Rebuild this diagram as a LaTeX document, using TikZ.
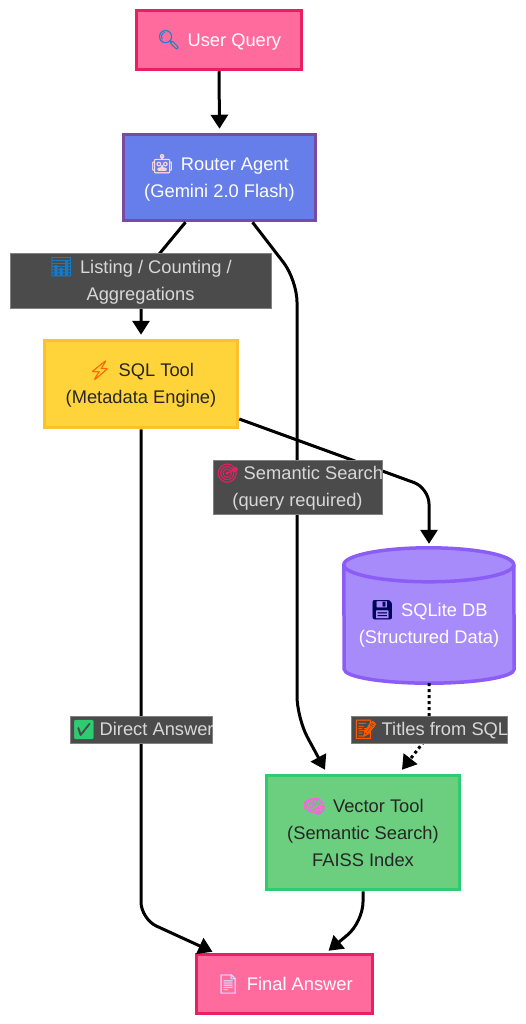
\documentclass[tikz,border=0pt]{standalone}
\usepackage{fontspec}
\setmainfont{Liberation Sans}
\newfontfamily\emojifont[FakeBold=1.5,Scale=1.02]{Noto Emoji}
\usetikzlibrary{arrows.meta,calc}
\newcommand{\emo}[2]{\textcolor{#1}{\emojifont #2}\hspace{7pt}}
\definecolor{pinkfill}{HTML}{FF6B9D}
\definecolor{pinkline}{HTML}{E91E63}
\definecolor{bluefill}{HTML}{667EEA}
\definecolor{blueline}{HTML}{764BA2}
\definecolor{yellowfill}{HTML}{FFD43B}
\definecolor{yellowline}{HTML}{FBC02D}
\definecolor{greenfill}{HTML}{6BCF7F}
\definecolor{greenline}{HTML}{2ECC71}
\definecolor{purplefill}{HTML}{A78BFA}
\definecolor{purpleline}{HTML}{8B5CF6}
\definecolor{labelfill}{HTML}{4A4B4A}
\definecolor{labeltext}{HTML}{D8D8D8}
\tikzset{
  x=1pt,y=-1pt,
  box/.style={draw,line width=3.5pt,inner sep=0pt,align=center,font=\fontsize{18.3}{27}\selectfont,anchor=center},
  pinkbox/.style={box,fill=pinkfill,draw=pinkline,text=white},
  bluebox/.style={box,fill=bluefill,draw=blueline,text=white},
  yellowbox/.style={box,fill=yellowfill,draw=yellowline,text=black!85},
  greenbox/.style={box,fill=greenfill,draw=greenline,text=black!85},
  lbl/.style={fill=labelfill,draw=labelfill!70!white,line width=.5pt,inner sep=0pt,align=center,text=labeltext,font=\fontsize{18.3}{27}\selectfont,anchor=center},
  link/.style={draw=black,line width=3pt,-{Triangle[length=14pt,width=17pt]},rounded corners=14pt},
  dotlink/.style={link,dash pattern=on 3pt off 3pt}
}
\begin{document}
\begin{tikzpicture}
\useasboundingbox (0,0) rectangle (525,1024);
\fill[white] (0,0) rectangle (525,1024);
% nodes
\node[pinkbox,minimum width=165pt,minimum height=59pt] (user) at (219,40) {\emo{cyan!70!blue}{🔍}User Query};
\node[bluebox,minimum width=192pt,minimum height=86pt] (router) at (219.5,177.5) {\emo{pink!60!white}{🤖}Router Agent\\(Gemini 2.0 Flash)};
\node[yellowbox,minimum width=193pt,minimum height=87pt] (sql) at (141,384) {\emo{orange!80!red}{⚡}SQL Tool\\(Metadata Engine)};
\node[draw=none,minimum width=170pt,minimum height=135pt,inner sep=0pt] (db) at (429,615.5) {};
\filldraw[fill=purplefill,draw=purpleline,line width=3.5pt]
  (db.north west) ++(0,17) coordinate (dbtl)
  arc[start angle=180,end angle=0,x radius=85pt,y radius=17pt]
  -- ($(db.south east)+(0,-14)$)
  arc[start angle=0,end angle=-180,x radius=85pt,y radius=14pt] -- cycle;
\draw[purpleline,line width=3.5pt] (dbtl) arc[start angle=180,end angle=360,x radius=85pt,y radius=17pt];
\node[text=white,align=center,font=\fontsize{18.3}{27}\selectfont] (dbtext) at (429,623.5) {\emo{blue!35!black}{💾}SQLite DB\\(Structured Data)};
\node[greenbox,minimum width=193pt,minimum height=114pt] (vector) at (363,832.5) {\emo{pink!50!magenta}{🧠}Vector Tool\\(Semantic Search)\\FAISS Index};
\node[pinkbox,minimum width=176pt,minimum height=59pt] (final) at (284.5,984) {\emo{white!85!blue}{📄}Final Answer};
% connectors
\draw[link] (user.south) -- ([yshift=4pt]router.north);
\draw[link] ([xshift=-34pt]router.south) -- (141,276) -- ([yshift=4pt]sql.north);
\draw[link,rounded corners=22pt] ([xshift=33pt]router.south) -- (297,280) -- (297,718) -- ([xshift=-38pt,yshift=4pt]vector.north);
\draw[link,rounded corners=16pt] ([yshift=-35pt]sql.east) -- (429,488) -- ([yshift=4pt]db.north);
\draw[link,rounded corners=17pt] (sql.south) -- (141,919) -- ([xshift=-72pt,yshift=1pt]final.north);
\draw[dotlink,rounded corners=0pt] (db.south) -- (429,735) -- ([xshift=39pt,yshift=4pt]vector.north);
\draw[link,rounded corners=20pt] (vector.south) -- (363,922) -- ([xshift=44pt,yshift=2pt]final.north);
% edge labels
\node[lbl,minimum width=261pt,minimum height=55pt] (l1) at (140.5,280.5) {\emo{cyan!60!blue}{📊}Listing / Counting /\\Aggregations};
\node[lbl,minimum width=169pt,minimum height=54pt] (l2) at (297.5,487) {\makebox[169pt][c]{\hspace{2pt}\makebox[165pt][l]{\emo{pinkline}{🎯}\hspace{-3pt}Semantic Search}}\\(query required)};
\node[lbl,minimum width=142pt,minimum height=27pt] (l3) at (141,729.5) {\makebox[142pt][l]{\hspace{2pt}\emo{greenline}{✅}\hspace{-3pt}Direct Answer}};
\node[lbl,minimum width=156pt,minimum height=27pt] (l4) at (429,729.5) {\makebox[156pt][l]{\hspace{3pt}\emo{orange!70!red}{📝}\hspace{-3pt}Titles from SQL}};
\end{tikzpicture}
\end{document}
